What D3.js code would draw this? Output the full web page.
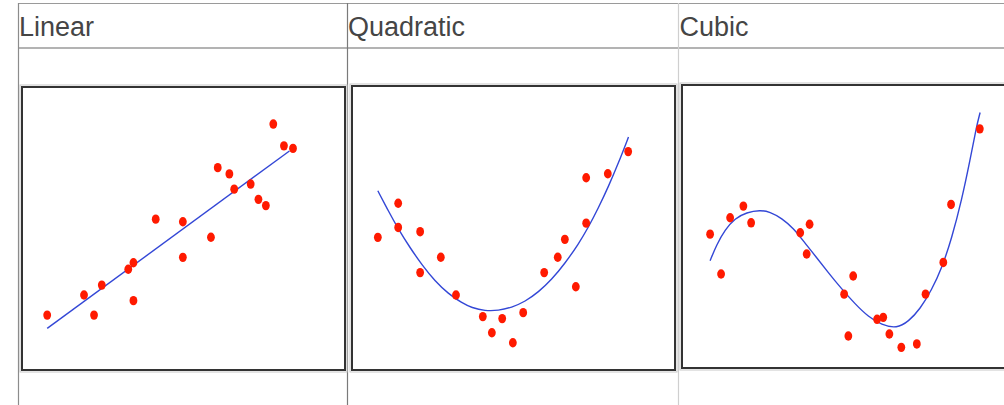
<!DOCTYPE html>
<html>
<head>
<meta charset="utf-8">
<script src="https://cdn.jsdelivr.net/npm/d3@7"></script>
<style>
  html, body { margin: 0; padding: 0; background: #fff; }
  svg { display: block; }
</style>
</head>
<body>
<svg id="chart" width="1004" height="405"></svg>
<script>
// ---------- data ----------
const titles = ["Linear", "Quadratic", "Cubic"];

const linearPoints = [
  [0.78,1.94],[1.92,2.65],[2.23,1.94],[2.47,3.00],[3.29,3.56],[3.45,3.79],[3.45,2.45],
  [4.14,5.33],[4.98,5.24],[4.98,3.98],[5.85,4.69],[6.06,7.15],[6.42,6.93],[6.57,6.39],
  [7.08,6.57],[7.32,6.03],[7.55,5.81],[7.78,8.69],[8.11,7.92],[8.39,7.83]
];
const linearFit = [[0.78,1.47],[8.28,7.74]];

const quadraticPoints = [
  [0.80,4.67],[1.43,5.87],[1.43,5.02],[2.11,4.87],[2.11,3.43],[2.75,3.97],[3.22,2.64],
  [4.05,1.88],[4.33,1.31],[4.65,1.81],[4.98,0.96],[5.30,2.02],[5.95,3.43],[6.37,3.97],
  [6.59,4.60],[6.93,2.93],[7.25,5.17],[7.25,6.77],[7.92,6.91],[8.55,7.69]
];
const quadraticFit = [
  [0.80,6.31],[1.13,5.59],[1.43,4.97],[1.80,4.30],[2.16,3.71],[2.57,3.13],[2.98,2.69],
  [3.40,2.36],[3.71,2.19],[4.12,2.08],[4.53,2.09],[4.94,2.20],[5.36,2.41],[5.77,2.74],
  [6.18,3.18],[6.59,3.75],[7.01,4.43],[7.32,5.03],[7.63,5.71],[7.94,6.46],[8.25,7.29],[8.56,8.20]
];

const cubicPoints = [
  [0.87,4.73],[1.21,3.32],[1.49,5.31],[1.90,5.72],[2.14,5.13],[3.66,4.78],[3.95,5.08],
  [3.86,4.03],[5.02,2.61],[5.30,3.25],[5.15,1.13],[6.04,1.72],[6.23,1.79],[6.42,1.20],
  [6.79,0.73],[7.27,0.85],[7.54,2.61],[8.09,3.73],[8.33,5.78],[9.22,8.45]
];
const cubicFit = [
  [0.87,3.79],[1.07,4.35],[1.33,4.88],[1.64,5.29],[2.00,5.50],[2.42,5.58],[2.72,5.52],
  [3.09,5.29],[3.45,4.94],[3.81,4.41],[4.17,3.90],[4.53,3.37],[4.94,2.80],[5.36,2.26],
  [5.77,1.81],[6.18,1.52],[6.65,1.40],[7.01,1.64],[7.37,2.08],[7.73,2.76],[8.04,3.52],
  [8.35,4.58],[8.66,5.94],[8.92,7.35],[9.12,8.55],[9.23,9.03]
];

const domainX = [0, 10];
const domainY = [0, 10];

// ---------- layout ----------
const svg = d3.select("#chart");
const panels = [
  { title: titles[0], points: linearPoints,    fit: linearFit,    box: [22, 87, 345, 370],   tx: 19,    curve: d3.curveLinear },
  { title: titles[1], points: quadraticPoints, fit: quadraticFit, box: [352, 86, 675, 370],  tx: 348,   curve: d3.curveBasis },
  { title: titles[2], points: cubicPoints,     fit: cubicFit,     box: [682, 85, 1005, 368], tx: 679.5, curve: d3.curveBasis }
];

// table grid lines
svg.append("line").attr("x1", 18).attr("x2", 1004).attr("y1", 3.5).attr("y2", 3.5)
  .attr("stroke", "#9a9a9a").attr("stroke-width", 1);
svg.append("line").attr("x1", 18).attr("x2", 1004).attr("y1", 48).attr("y2", 48)
  .attr("stroke", "#9a9a9a").attr("stroke-width", 1.5);
[[18.5, "#8c8c8c"], [347.5, "#7a7a7a"], [678.5, "#cfcfcf"]].forEach(([x, c]) => {
  svg.append("line").attr("x1", x).attr("x2", x).attr("y1", 3).attr("y2", 405)
    .attr("stroke", c).attr("stroke-width", 1.2);
});

panels.forEach(p => {
  const [l, t, r, b] = p.box;
  const x = d3.scaleLinear().domain(domainX).range([l, r]);
  const y = d3.scaleLinear().domain(domainY).range([b, t]);

  // header title
  svg.append("text")
    .attr("x", p.tx).attr("y", 36)
    .attr("font-family", "Liberation Sans, Arial, Helvetica, sans-serif")
    .attr("font-size", 27)
    .attr("fill", "#454545")
    .text(p.title);

  // plot box: light outer shadow + dark frame
  svg.append("rect")
    .attr("x", l - 2).attr("y", t - 2).attr("width", r - l + 4).attr("height", b - t + 4)
    .attr("fill", "none").attr("stroke", "#c8c8c8").attr("stroke-width", 1);
  svg.append("rect")
    .attr("x", l).attr("y", t).attr("width", r - l).attr("height", b - t)
    .attr("fill", "#fff").attr("stroke", "#333").attr("stroke-width", 2);

  // fit curve
  svg.append("path")
    .datum(p.fit)
    .attr("fill", "none")
    .attr("stroke", "#3347d6")
    .attr("stroke-width", 1.4)
    .attr("d", d3.line().x(d => x(d[0])).y(d => y(d[1])).curve(p.curve));

  // points
  svg.append("g").selectAll("ellipse")
    .data(p.points)
    .join("ellipse")
    .attr("cx", d => x(d[0]))
    .attr("cy", d => y(d[1]))
    .attr("rx", 3.9)
    .attr("ry", 4.7)
    .attr("fill", "#ff1a00");
});
</script>
</body>
</html>
